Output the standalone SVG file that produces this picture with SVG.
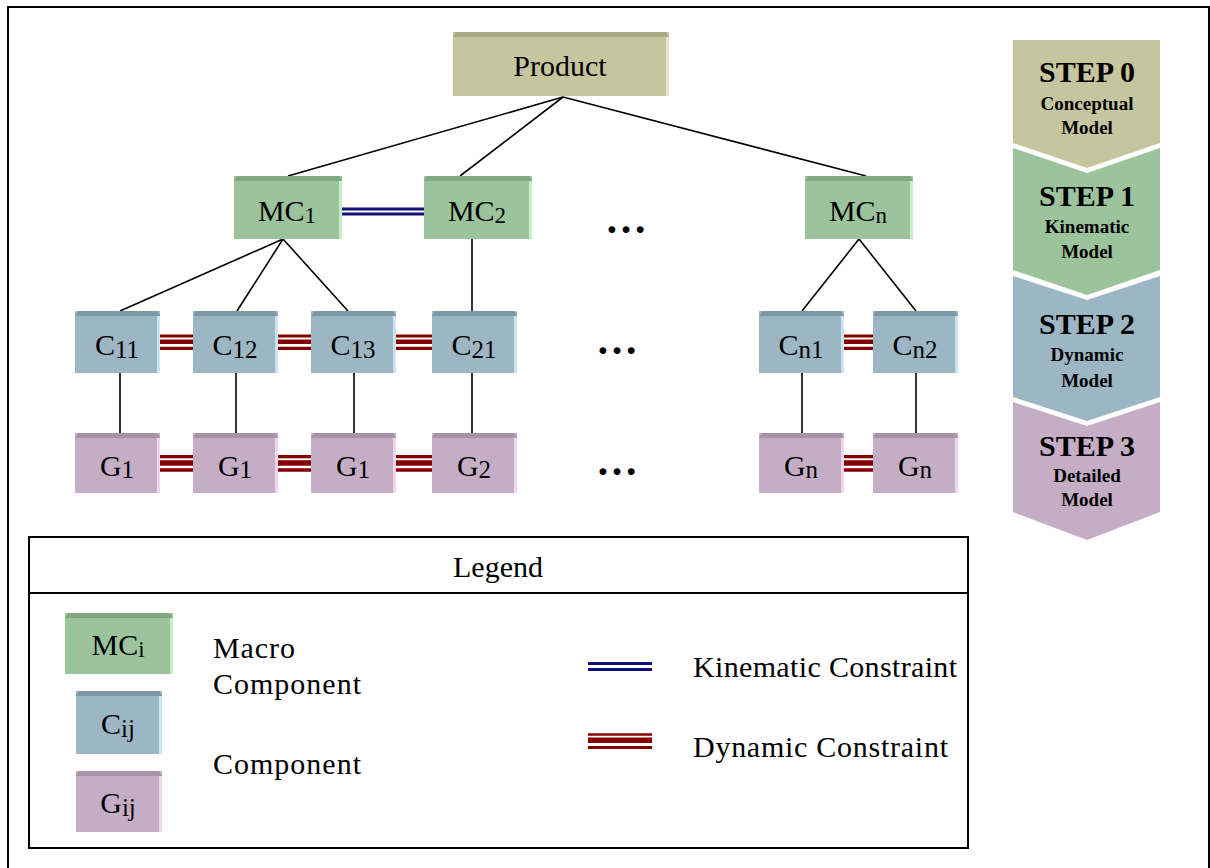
<svg xmlns="http://www.w3.org/2000/svg" width="1210" height="868" viewBox="0 0 1210 868">
<style>
.t{font-family:"Liberation Serif","Times New Roman",serif;fill:#000}
.box{font-size:30px}
.sub{font-size:23px}
.sub2{font-size:25px}
.line{stroke:#000;stroke-width:1.6;fill:none}
.kin{stroke:#10107a;stroke-width:3;fill:none}
.dyn{stroke:#850000;fill:none}
.step{font-weight:bold;font-size:30px}
.stepsub{font-weight:bold;font-size:19px}
.pr{fill:#c6c69e}.prT{fill:#a9a985}.prR{fill:#e6e6c4}
.mc{fill:#9cc49c}.mcT{fill:#80a881}.mcR{fill:#c6efc6}
.c{fill:#9db6c4}.cT{fill:#7f98a7}.cR{fill:#c9e5f2}
.g{fill:#c5aec5}.gT{fill:#a892a8}.gR{fill:#f0d6f0}
</style>
<rect x="0" y="0" width="1210" height="868" fill="#fff"/>
<rect x="8" y="7" width="1201" height="900" fill="none" stroke="#000" stroke-width="2"/>

<!-- connectors -->
<g id="connectors">
  <line class="line" x1="563" y1="97" x2="288" y2="176"/>
  <line class="line" x1="563" y1="97" x2="460" y2="176"/>
  <line class="line" x1="563" y1="97" x2="866" y2="176"/>
  <line class="line" x1="283" y1="239" x2="120" y2="311"/>
  <line class="line" x1="283" y1="239" x2="237" y2="311"/>
  <line class="line" x1="283" y1="239" x2="348" y2="311"/>
  <line class="line" x1="472" y1="239" x2="472" y2="311"/>
  <line class="line" x1="859" y1="239" x2="802" y2="311"/>
  <line class="line" x1="859" y1="239" x2="916" y2="311"/>
  <line class="line" x1="120" y1="373" x2="120" y2="433"/>
  <line class="line" x1="236" y1="373" x2="236" y2="433"/>
  <line class="line" x1="354" y1="373" x2="354" y2="433"/>
  <line class="line" x1="472" y1="373" x2="472" y2="433"/>
  <line class="line" x1="802" y1="373" x2="802" y2="433"/>
  <line class="line" x1="916" y1="373" x2="916" y2="433"/>
  <!-- kinematic -->
  <line class="kin" x1="342" y1="209" x2="424" y2="209"/>
  <line class="kin" x1="342" y1="214" x2="424" y2="214"/>
  <!-- dynamic -->
  <g class="dyn">
    <path d="M160 336H193M278 336H311M396 336H432M844 336H873" stroke-width="3.2"/>
    <path d="M160 341.7H193M278 341.7H311M396 341.7H432M844 341.7H873" stroke-width="4.4"/>
    <path d="M160 348.4H193M278 348.4H311M396 348.4H432M844 348.4H873" stroke-width="3.4"/>
    <path d="M160 456.7H193M278 456.7H311M396 456.7H432M844 456.7H873" stroke-width="3.3"/>
    <path d="M160 463H193M278 463H311M396 463H432M844 463H873" stroke-width="5.5"/>
    <path d="M160 470H193M278 470H311M396 470H432M844 470H873" stroke-width="3.3"/>
  </g>
</g>

<!-- Product -->
<g id="product">
  <rect class="pr" x="453" y="32" width="216" height="64"/>
  <path class="prT" d="M453 37L456 32H666L669 37Z"/>
  <rect class="prR" x="666" y="37" width="3" height="59"/>
  <text class="t box" x="560" y="76" text-anchor="middle" font-size="31">Product</text>
</g>

<!-- MC row -->
<g id="mc1">
  <rect class="mc" x="234" y="176" width="108" height="63"/>
  <path class="mcT" d="M234 181L237 176H339L342 181Z"/>
  <rect class="mcR" x="339" y="181" width="3" height="58"/>
  <text class="t box" x="287" y="221" text-anchor="middle">MC<tspan class="sub" dy="2">1</tspan></text>
</g>
<g id="mc2">
  <rect class="mc" x="424" y="176" width="108" height="63"/>
  <path class="mcT" d="M424 181L427 176H529L532 181Z"/>
  <rect class="mcR" x="529" y="181" width="3" height="58"/>
  <text class="t box" x="477" y="221" text-anchor="middle">MC<tspan class="sub" dy="2">2</tspan></text>
</g>
<g id="mcn">
  <rect class="mc" x="805" y="176" width="108" height="63"/>
  <path class="mcT" d="M805 181L808 176H910L913 181Z"/>
  <rect class="mcR" x="910" y="181" width="3" height="58"/>
  <text class="t box" x="858" y="221" text-anchor="middle">MC<tspan class="sub" dy="2">n</tspan></text>
</g>
<text class="t" x="626" y="233" text-anchor="middle" font-size="42" font-weight="bold">…</text>

<!-- C row -->
<g id="c11">
  <rect class="c" x="75" y="311" width="85" height="62"/>
  <path class="cT" d="M75 316L78 311H157L160 316Z"/>
  <rect class="cR" x="157" y="316" width="3" height="57"/>
  <text class="t box" x="117" y="355" text-anchor="middle">C<tspan class="sub2" dy="3">11</tspan></text>
</g>
<g id="c12">
  <rect class="c" x="193" y="311" width="85" height="62"/>
  <path class="cT" d="M193 316L196 311H275L278 316Z"/>
  <rect class="cR" x="275" y="316" width="3" height="57"/>
  <text class="t box" x="235" y="355" text-anchor="middle">C<tspan class="sub2" dy="3">12</tspan></text>
</g>
<g id="c13">
  <rect class="c" x="311" y="311" width="85" height="62"/>
  <path class="cT" d="M311 316L314 311H393L396 316Z"/>
  <rect class="cR" x="393" y="316" width="3" height="57"/>
  <text class="t box" x="353" y="355" text-anchor="middle">C<tspan class="sub2" dy="3">13</tspan></text>
</g>
<g id="c21">
  <rect class="c" x="432" y="311" width="85" height="62"/>
  <path class="cT" d="M432 316L435 311H514L517 316Z"/>
  <rect class="cR" x="514" y="316" width="3" height="57"/>
  <text class="t box" x="474" y="355" text-anchor="middle">C<tspan class="sub2" dy="3">21</tspan></text>
</g>
<g id="cn1">
  <rect class="c" x="759" y="311" width="85" height="62"/>
  <path class="cT" d="M759 316L762 311H841L844 316Z"/>
  <rect class="cR" x="841" y="316" width="3" height="57"/>
  <text class="t box" x="801" y="355" text-anchor="middle">C<tspan class="sub2" dy="3">n1</tspan></text>
</g>
<g id="cn2">
  <rect class="c" x="873" y="311" width="85" height="62"/>
  <path class="cT" d="M873 316L876 311H955L958 316Z"/>
  <rect class="cR" x="955" y="316" width="3" height="57"/>
  <text class="t box" x="915" y="355" text-anchor="middle">C<tspan class="sub2" dy="3">n2</tspan></text>
</g>
<text class="t" x="617" y="354" text-anchor="middle" font-size="42" font-weight="bold">…</text>

<!-- G row -->
<g id="g1a">
  <rect class="g" x="75" y="433" width="85" height="60"/>
  <path class="gT" d="M75 438L78 433H157L160 438Z"/>
  <rect class="gR" x="157" y="438" width="3" height="55"/>
  <text class="t box" x="117" y="476" text-anchor="middle">G<tspan class="sub2" dy="2">1</tspan></text>
</g>
<g id="g1b">
  <rect class="g" x="193" y="433" width="85" height="60"/>
  <path class="gT" d="M193 438L196 433H275L278 438Z"/>
  <rect class="gR" x="275" y="438" width="3" height="55"/>
  <text class="t box" x="235" y="476" text-anchor="middle">G<tspan class="sub2" dy="2">1</tspan></text>
</g>
<g id="g1c">
  <rect class="g" x="311" y="433" width="85" height="60"/>
  <path class="gT" d="M311 438L314 433H393L396 438Z"/>
  <rect class="gR" x="393" y="438" width="3" height="55"/>
  <text class="t box" x="353" y="476" text-anchor="middle">G<tspan class="sub2" dy="2">1</tspan></text>
</g>
<g id="g2">
  <rect class="g" x="432" y="433" width="85" height="60"/>
  <path class="gT" d="M432 438L435 433H514L517 438Z"/>
  <rect class="gR" x="514" y="438" width="3" height="55"/>
  <text class="t box" x="474" y="476" text-anchor="middle">G<tspan class="sub2" dy="2">2</tspan></text>
</g>
<g id="gn1">
  <rect class="g" x="759" y="433" width="85" height="60"/>
  <path class="gT" d="M759 438L762 433H841L844 438Z"/>
  <rect class="gR" x="841" y="438" width="3" height="55"/>
  <text class="t box" x="801" y="476" text-anchor="middle">G<tspan class="sub2" dy="2">n</tspan></text>
</g>
<g id="gn2">
  <rect class="g" x="873" y="433" width="85" height="60"/>
  <path class="gT" d="M873 438L876 433H955L958 438Z"/>
  <rect class="gR" x="955" y="438" width="3" height="55"/>
  <text class="t box" x="915" y="476" text-anchor="middle">G<tspan class="sub2" dy="2">n</tspan></text>
</g>
<text class="t" x="617" y="475" text-anchor="middle" font-size="42" font-weight="bold">…</text>

<!-- Steps -->
<g id="step0">
  <path class="pr" d="M1013 40H1160V143L1087 168L1013 143Z"/>
  <text class="t step" x="1087" y="82" text-anchor="middle">STEP 0</text>
  <text class="t stepsub" x="1087" y="110" text-anchor="middle">Conceptual</text>
  <text class="t stepsub" x="1087" y="134" text-anchor="middle">Model</text>
</g>
<g id="step1">
  <path class="mc" d="M1013 148L1087 173L1160 148V270L1087 295L1013 270Z"/>
  <text class="t step" x="1087" y="206" text-anchor="middle">STEP 1</text>
  <text class="t stepsub" x="1087" y="233" text-anchor="middle">Kinematic</text>
  <text class="t stepsub" x="1087" y="258" text-anchor="middle">Model</text>
</g>
<g id="step2">
  <path class="c" d="M1013 276L1087 300L1160 276V397L1087 421L1013 397Z"/>
  <text class="t step" x="1087" y="334" text-anchor="middle">STEP 2</text>
  <text class="t stepsub" x="1087" y="361" text-anchor="middle">Dynamic</text>
  <text class="t stepsub" x="1087" y="387" text-anchor="middle">Model</text>
</g>
<g id="step3">
  <path class="g" d="M1013 402L1087 426L1160 402V512L1087 540L1013 512Z"/>
  <text class="t step" x="1087" y="456" text-anchor="middle">STEP 3</text>
  <text class="t stepsub" x="1087" y="482" text-anchor="middle">Detailed</text>
  <text class="t stepsub" x="1087" y="506" text-anchor="middle">Model</text>
</g>

<!-- Legend -->
<g id="legend">
  <rect x="29" y="537" width="939" height="311" fill="none" stroke="#000" stroke-width="2"/>
  <line x1="29" y1="593" x2="968" y2="593" stroke="#000" stroke-width="2"/>
  <text class="t box" x="498" y="577" text-anchor="middle">Legend</text>
  <g id="leg-mc">
    <rect class="mc" x="65" y="613" width="108" height="61"/>
    <path class="mcT" d="M65 618L68 613H170L173 618Z"/>
    <rect class="mcR" x="170" y="618" width="3" height="56"/>
    <text class="t box" x="118" y="655" text-anchor="middle">MC<tspan class="sub" dy="2">i</tspan></text>
  </g>
  <g id="leg-c">
    <rect class="c" x="76" y="691" width="86" height="63"/>
    <path class="cT" d="M76 696L79 691H159L162 696Z"/>
    <rect class="cR" x="159" y="696" width="3" height="58"/>
    <text class="t box" x="118" y="734" text-anchor="middle">C<tspan class="sub2" dy="3">ij</tspan></text>
  </g>
  <g id="leg-g">
    <rect class="g" x="76" y="771" width="86" height="61"/>
    <path class="gT" d="M76 776L79 771H159L162 776Z"/>
    <rect class="gR" x="159" y="776" width="3" height="56"/>
    <text class="t box" x="118" y="813" text-anchor="middle">G<tspan class="sub2" dy="3">ij</tspan></text>
  </g>
  <text class="t box" x="213" y="658" textLength="82">Macro</text>
  <text class="t box" x="213" y="694" textLength="148">Component</text>
  <text class="t box" x="213" y="774" textLength="148">Component</text>
  <line class="kin" x1="588" y1="663.5" x2="652" y2="663.5"/>
  <line class="kin" x1="588" y1="669.5" x2="652" y2="669.5"/>
  <line class="dyn" x1="588" y1="734.5" x2="652" y2="734.5" stroke-width="2.6"/>
  <line class="dyn" x1="588" y1="740.2" x2="652" y2="740.2" stroke-width="5.6"/>
  <line class="dyn" x1="588" y1="747.5" x2="652" y2="747.5" stroke-width="3"/>
  <text class="t box" x="693" y="677" textLength="264">Kinematic Constraint</text>
  <text class="t box" x="693" y="757" textLength="255">Dynamic Constraint</text>
</g>
</svg>
